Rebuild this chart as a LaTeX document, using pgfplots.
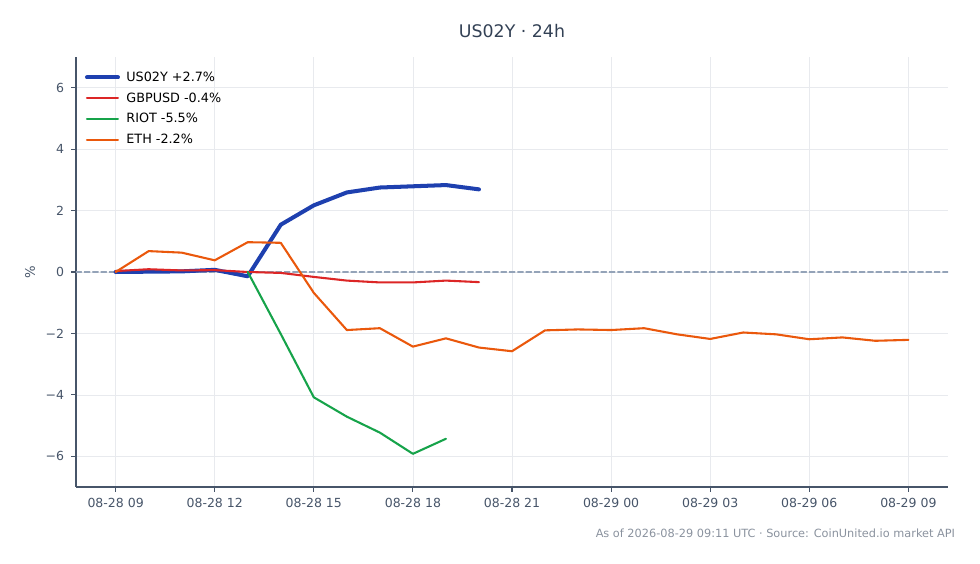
\documentclass[border=0pt]{standalone}
\usepackage{fontspec}
\setmainfont{DejaVu Sans}
\usepackage{pgfplots}
\pgfplotsset{compat=1.18}

\definecolor{cUS}{HTML}{1E40AF}
\definecolor{cGBP}{HTML}{DC2626}
\definecolor{cRIOT}{HTML}{16A34A}
\definecolor{cETH}{HTML}{EA580C}
\definecolor{slate}{HTML}{334155}
\definecolor{slatemid}{HTML}{475569}
\definecolor{zeroln}{HTML}{94A3B8}
\definecolor{gridc}{HTML}{E8EAEE}
\definecolor{foot}{HTML}{8A929E}

\begin{document}
\begin{tikzpicture}
\useasboundingbox (0,0) rectangle (705.6pt,406.08pt);
\begin{axis}[
    at={(54.72pt,55.44pt)}, anchor=south west,
    scale only axis,
    width=627.84pt, height=309.6pt,
    xmin=7.8, xmax=34.2,
    ymin=-7, ymax=7,
    axis x line*=bottom, axis y line*=left,
    axis line style={-, draw=slatemid, line width=0.9pt},
    tick align=outside,
    major tick length=3.6pt,
    every tick/.style={draw=slatemid, line width=0.8pt},
    xtick={9,12,15,18,21,24,27,30,33},
    xticklabels={08-28 09,08-28 12,08-28 15,08-28 18,08-28 21,08-29 00,08-29 03,08-29 06,08-29 09},
    ytick={-6,-4,-2,0,2,4,6},
    yticklabels={−6,−4,−2,0,2,4,6},
    /pgf/number format/assume math mode=true,
    ticklabel style={font=\fontsize{9}{11}\selectfont, text=slatemid},
    xticklabel style={yshift=-1pt},
    yticklabel style={xshift=-1.5pt},
    grid=major,
    major grid style={draw=gridc, line width=0.5pt},
    legend style={at={(0.010,0.973)}, anchor=north west, draw=none, fill=none,
        font=\fontsize{9.2}{11}\selectfont, inner sep=0pt, row sep=2.7pt,
        legend cell align=left, nodes={inner xsep=4.6pt}},
    legend image code/.code={\draw[#1] (0pt,0pt) -- (22.3pt,0pt);},
    every axis plot/.append style={line join=round, line cap=round},
]
\addplot[draw=zeroln, line width=0.8pt, dash pattern=on 4pt off 2pt, forget plot]
    coordinates {(7.8,0) (34.2,0)};

\addplot[cUS, line width=2.9pt] coordinates {
    (9,0.00) (10,0.01) (11,0.02) (12,0.07) (13,-0.14) (14,1.54) (15,2.17)
    (16,2.59) (17,2.75) (18,2.79) (19,2.83) (20,2.69)
};
\addlegendentry{US02Y +2.7\%}

\addplot[cGBP, line width=1.5pt] coordinates {
    (9,0.03) (10,0.09) (11,0.05) (12,0.06) (13,0.00) (14,-0.03) (15,-0.16)
    (16,-0.28) (17,-0.34) (18,-0.34) (19,-0.28) (20,-0.33)
};
\addlegendentry{GBPUSD -0.4\%}

\addplot[cRIOT, line width=1.5pt] coordinates {
    (13,0.00) (14,-2.02) (15,-4.08) (16,-4.71) (17,-5.23) (18,-5.92) (19,-5.43)
};
\addlegendentry{RIOT -5.5\%}

\addplot[cETH, line width=1.5pt] coordinates {
    (9,0.00) (10,0.68) (11,0.63) (12,0.38) (13,0.97) (14,0.95) (15,-0.68)
    (16,-1.89) (17,-1.83) (18,-2.43) (19,-2.16) (20,-2.46) (21,-2.58)
    (22,-1.90) (23,-1.87) (24,-1.89) (25,-1.83) (26,-2.03) (27,-2.18)
    (28,-1.97) (29,-2.03) (30,-2.19) (31,-2.13) (32,-2.24) (33,-2.21)
};
\addlegendentry{ETH -2.2\%}
\end{axis}

\node[text=slate, font=\fontsize{12.5}{15}\selectfont] at (368.64pt,383.76pt) {US02Y · 24h};
\node[text=slatemid, rotate=90, font=\fontsize{9.5}{11}\selectfont] at (21.6pt,210.24pt) {\%};
\node[text=foot, anchor=east, font=\fontsize{8.15}{10}\selectfont] at (691.2pt,22.32pt)
    {As of 2026-08-29 09:11 UTC · Source: CoinUnited.io market API};
\end{tikzpicture}
\end{document}
